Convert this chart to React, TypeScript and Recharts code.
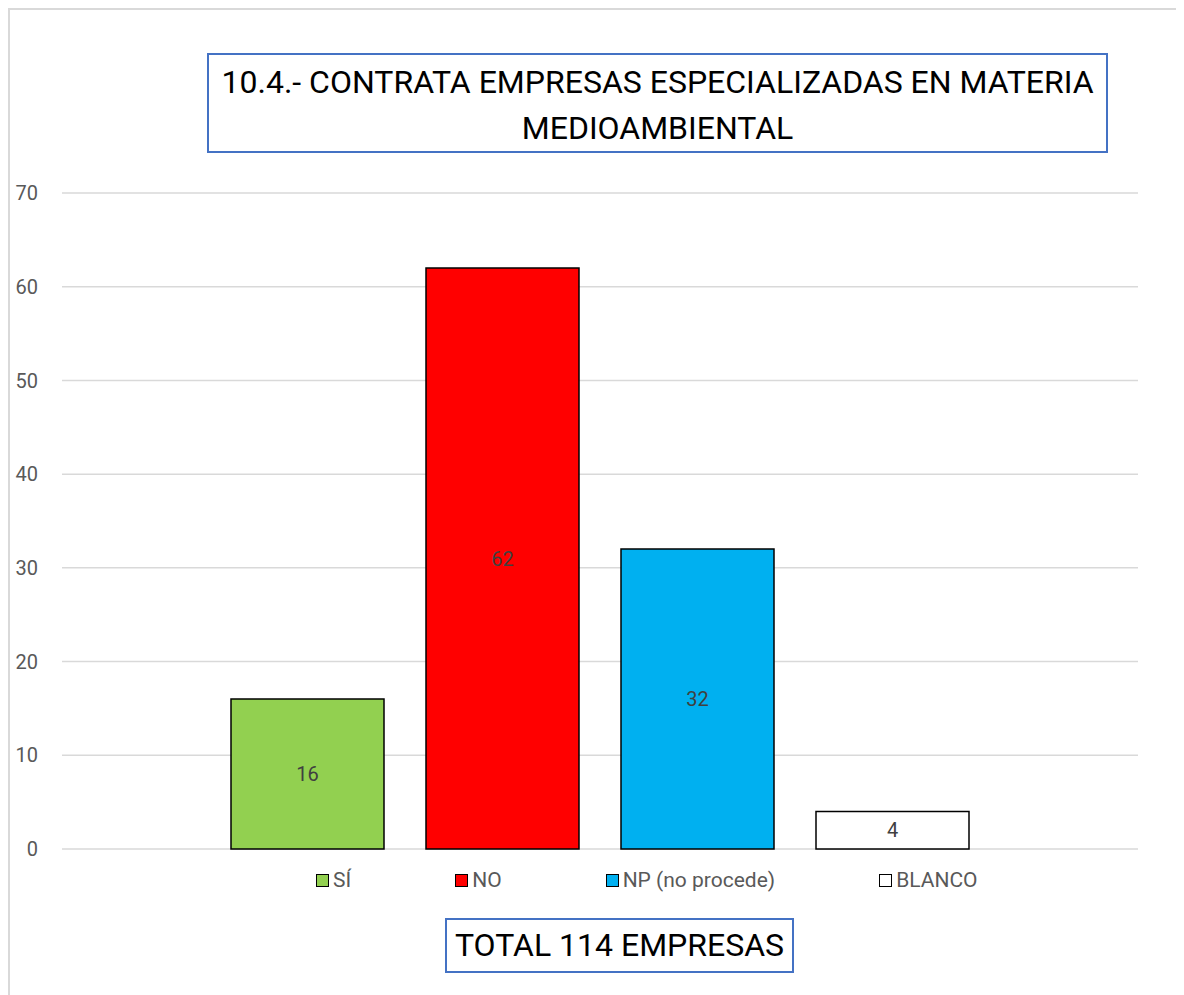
import React from 'react';
import { BarChart, Bar, XAxis, YAxis, CartesianGrid, LabelList } from 'recharts';

const categories = ['SÍ', 'NO', 'NP (no procede)', 'BLANCO'];
const values = [16, 62, 32, 4];
const colors = ['#92D050', '#FF0000', '#00B0F0', '#FFFFFF'];
const yTicks = [0, 10, 20, 30, 40, 50, 60, 70];

const titleLines = ['10.4.- CONTRATA EMPRESAS ESPECIALIZADAS EN MATERIA', 'MEDIOAMBIENTAL'];
const footer = 'TOTAL 114 EMPRESAS';

const keys = categories.map((_, i) => `s${i}`);
const row: Record<string, any> = { name: 'total' };
keys.forEach((k, i) => {
  row[k] = values[i];
});
const data = [row];

const FONT = 'Roboto, "Liberation Sans", sans-serif';

export default function App() {
  return (
    <div
      style={{
        position: 'relative',
        width: 1176,
        height: 987,
        boxSizing: 'border-box',
        borderLeft: '2px solid #d9d9d9',
        borderTop: '2px solid #d9d9d9',
        fontFamily: FONT,
        background: '#fff',
      }}
    >
      {/* title box */}
      <div
        style={{
          position: 'absolute',
          left: 197,
          top: 43,
          width: 901,
          height: 100,
          boxSizing: 'border-box',
          border: '2px solid #4472C4',
          color: '#000',
          fontSize: 32,
          lineHeight: '46px',
          textAlign: 'center',
          whiteSpace: 'nowrap',
          paddingTop: 4,
        }}
      >
        {titleLines.map((l) => (
          <div key={l}>{l}</div>
        ))}
      </div>

      <div style={{ position: 'absolute', left: -2, top: -2 }}>
        <BarChart
          width={1176}
          height={900}
          data={data}
          margin={{ top: 185, right: 46, left: 0, bottom: 59 }}
          barSize={153}
          barGap={42}
        >
          <CartesianGrid vertical={false} stroke="#d9d9d9" strokeWidth={1.5} />
          <XAxis dataKey="name" hide />
          <YAxis
            width={54}
            domain={[0, 70]}
            ticks={yTicks}
            tickLine={false}
            axisLine={false}
            tickSize={0}
            tickMargin={24}
            tick={{ fontSize: 20, fill: '#595959', fontFamily: FONT }}
          />
          {keys.map((k, i) => (
            <Bar
              key={k}
              dataKey={k}
              name={categories[i]}
              fill={colors[i]}
              stroke="#000"
              strokeWidth={1.5}
              isAnimationActive={false}
            >
              <LabelList
                dataKey={k}
                position="center"
                fill="#404040"
                fontSize={20}
                fontFamily={FONT}
              />
            </Bar>
          ))}
        </BarChart>
      </div>

      {/* legend */}
      <div
        style={{
          position: 'absolute',
          left: 306,
          top: 858,
          display: 'flex',
          gap: 104,
          alignItems: 'center',
          fontSize: 21,
          color: '#595959',
        }}
      >
        {categories.map((c, i) => (
          <div key={c} style={{ display: 'flex', alignItems: 'center' }}>
            <span
              style={{
                display: 'inline-block',
                width: 11,
                height: 11,
                border: '1.5px solid #000',
                background: colors[i],
                marginRight: 4,
              }}
            />
            <span>{c}</span>
          </div>
        ))}
      </div>

      {/* footer box */}
      <div
        style={{
          position: 'absolute',
          left: 435,
          top: 908,
          width: 349,
          height: 55,
          boxSizing: 'border-box',
          border: '2px solid #4472C4',
          fontSize: 32,
          lineHeight: '51px',
          textAlign: 'center',
          color: '#000',
          whiteSpace: 'nowrap',
        }}
      >
        {footer}
      </div>
    </div>
  );
}
